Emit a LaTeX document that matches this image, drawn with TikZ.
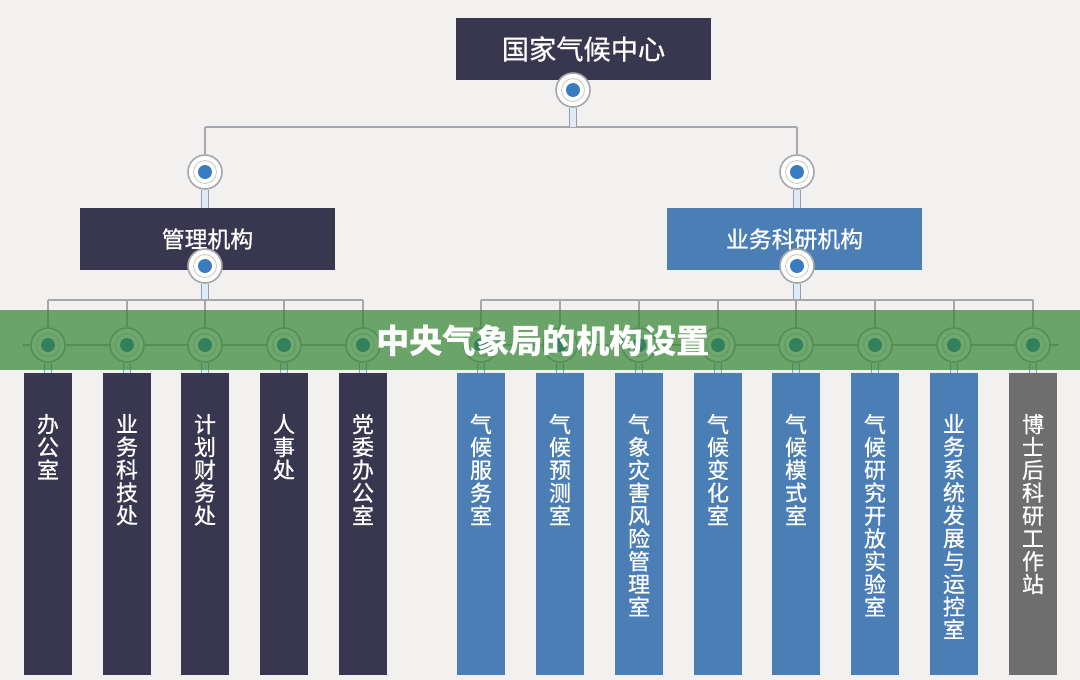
\documentclass[tikz,border=0pt]{standalone}
\usepackage{fontspec}
\setmainfont{Noto Sans CJK SC}
\newfontfamily\labelfont{Noto Sans CJK SC}[FakeBold=0.7]
\usetikzlibrary{positioning,backgrounds}
\definecolor{pagebg}{HTML}{F2F1EF}
\definecolor{navy}{HTML}{393750}
\definecolor{steel}{HTML}{4B7EB5}
\definecolor{ash}{HTML}{6E6E6E}
\definecolor{wire}{HTML}{A6A6AB}
\definecolor{dotblue}{HTML}{3A7CC2}
\definecolor{band}{HTML}{318431}

\begin{document}
\begin{tikzpicture}[x=0.02cm,y=-0.02cm,
		unit/.style={rectangle,text=white,inner sep=0pt,minimum width=5.12cm,minimum height=1.24cm,font=\labelfont\fontsize{13}{13}\selectfont},
		office/.style={rectangle,inner sep=0pt,minimum width=0.96cm,minimum height=6.04cm},
		vtext/.style={text=white,inner sep=0pt,align=center,font=\labelfont\fontsize{12.5}{13}\selectfont},
		knob/.style={circle,draw=wire,line width=0.9pt,fill=white,minimum size=0.68cm,inner sep=0pt,
			path picture={\draw[wire!60,line width=0.5pt] (path picture bounding box.center) circle (0.23cm);
				\fill[dotblue] (path picture bounding box.center) circle (0.14cm);}},
		link/.style={draw=wire,line width=1.1pt},
		stem/.style={draw=wire!80!dotblue,line width=0.6pt,double=white!85!dotblue,double distance=0.12cm}]
	\begin{scope}[on background layer]
		\fill[pagebg] (0,0) rectangle (1080,680);
	\end{scope}
	\useasboundingbox (0,0) rectangle (1080,680);
	\node[unit,fill=navy,font=\labelfont\fontsize{15.5}{16}\selectfont] (nmc) at (583.5,49) {国家气候中心};
	\node[unit,fill=navy] (admin) at (207.5,239) {管理机构};
	\node[unit,fill=steel] (sci) at (794.5,239) {业务科研机构};
	\node[knob] (k0) at (573,90) {};
	\node[knob] (k1) at (205,172) {};
	\node[knob] (k2) at (205,266) {};
	\node[knob] (k3) at (797,172) {};
	\node[knob] (k4) at (797,266) {};
	\coordinate (tbus) at (573,127);
	\coordinate (lbus) at (205,300);
	\coordinate (rbus) at (797,300);
	\coordinate (lw) at (23,345);
	\coordinate (le) at (385,345);
	\coordinate (rw) at (468,345);
	\coordinate (re) at (1059,345);
	\foreach \n/\x/\txt in {1/48/办\\公\\室,2/127/业\\务\\科\\技\\处,3/205/计\\划\\财\\务\\处,4/284/人\\事\\处,5/363/党\\委\\办\\公\\室}{
		\node[office,fill=navy] (L\n) at (\x,524) {};
		\node[vtext,below=0.82cm of L\n.north] {\txt};
		\node[knob] (gl\n) at (\x,345) {};
	}
	\foreach \n/\x/\c/\txt in {1/481/steel/气\\候\\服\\务\\室,2/560/steel/气\\候\\预\\测\\室,3/639/steel/气\\象\\灾\\害\\风\\险\\管\\理\\室,4/718/steel/气\\候\\变\\化\\室,5/796/steel/气\\候\\模\\式\\室,6/875/steel/气\\候\\研\\究\\开\\放\\实\\验\\室,7/954/steel/业\\务\\系\\统\\发\\展\\与\\运\\控\\室,8/1033/ash/博\\士\\后\\科\\研\\工\\作\\站}{
		\node[office,fill=\c] (R\n) at (\x,524) {};
		\node[vtext,below=0.82cm of R\n.north] {\txt};
		\node[knob] (gr\n) at (\x,345) {};
	}
	\begin{scope}[on background layer]
		\draw[link] (k1|-tbus) -- (k3|-tbus);
		\draw[stem] (k0) -- (tbus);
		\draw[link] (k1|-tbus) -- (k1);
		\draw[link] (k3|-tbus) -- (k3);
		\draw[stem] (k1) -- (k1|-admin.north);
		\draw[stem] (k3) -- (k3|-sci.north);
		\draw[stem] (k2) -- (lbus);
		\draw[stem] (k4) -- (rbus);
		\draw[link] (gl1|-lbus) -- (gl5|-lbus);
		\draw[link] (gr1|-rbus) -- (gr8|-rbus);
		\draw[link] (lw) -- (le);
		\draw[link] (rw) -- (re);
		\foreach \n in {1,...,5}{
			\draw[link] (gl\n|-lbus) -- (gl\n);
			\draw[stem] (gl\n) -- (gl\n|-L\n.north);
		}
		\foreach \n in {1,...,8}{
			\draw[link] (gr\n|-rbus) -- (gr\n);
			\draw[stem] (gr\n) -- (gr\n|-R\n.north);
		}
	\end{scope}
	\fill[band,fill opacity=0.7] (0,310) rectangle (1080,370);
	\node[text=white,font=\bfseries\fontsize{19}{19}\selectfont] (title) at (543,341) {中央气象局的机构设置};
\end{tikzpicture}
\end{document}
